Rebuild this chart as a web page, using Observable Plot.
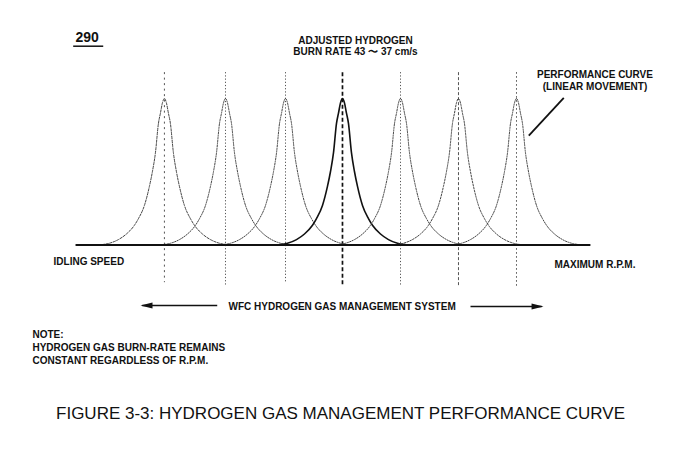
<!DOCTYPE html>
<html>
<head>
<meta charset="utf-8">
<script src="https://cdn.jsdelivr.net/npm/d3@7"></script>
<script src="https://cdn.jsdelivr.net/npm/@observablehq/plot@0.6"></script>
<style>
  html, body { margin: 0; padding: 0; background: #fff; }
</style>
</head>
<body>
<div id="chart"></div>
<script>
// ---- Data ----
// Engine-speed position of each performance peak (peak spacing ~ 1 unit)
const peakCenters = [0.999, 2.040, 3.063, 4.034, 5.023, 6.011, 7.0];
// Shape of one peak: offset from its centre and relative height (one side, mirrored)
const profileOffset = [0, 0.034, 0.068, 0.102, 0.153, 0.205, 0.256, 0.341, 0.443, 0.511, 0.648, 0.784, 0.937, 1.057, 1.125];
const profileHeight = [1, 0.97, 0.90, 0.83, 0.63, 0.50, 0.40, 0.27, 0.18, 0.135, 0.075, 0.037, 0.012, 0.003, 0];
// Lower ends of the vertical centre lines
const guideBottoms = [-0.254, -0.283, -0.254, -0.283, -0.283, -0.283, -0.29];
const guideTop = 1.18;
// Texts
const figNumber = "290";
const topLabel = ["ADJUSTED HYDROGEN", "BURN RATE 43 〜 37 cm/s"];
const curveLabel = ["PERFORMANCE CURVE", "(LINEAR MOVEMENT)"];
const leftLabel = "IDLING SPEED";
const rightLabel = "MAXIMUM R.P.M.";
const systemLabel = "WFC HYDROGEN GAS MANAGEMENT SYSTEM";
const noteLines = ["NOTE:", "HYDROGEN GAS BURN-RATE REMAINS", "CONSTANT REGARDLESS OF R.P.M."];
const caption = "FIGURE 3-3: HYDROGEN GAS MANAGEMENT PERFORMANCE CURVE";
const baselineRange = [-0.516, 8.26];

// ---- Build peak point tables ----
function peakPoints(c) {
  const pts = [];
  for (let i = profileOffset.length - 1; i >= 0; i--) pts.push({x: c - profileOffset[i], y: profileHeight[i]});
  for (let i = 1; i < profileOffset.length; i++) pts.push({x: c + profileOffset[i], y: profileHeight[i]});
  return pts;
}

// styles per peak (index matches peakCenters)
const curveDash = ["2.4,1.4", "1.3,1.3", "1.3,1.3", null, "1.3,1.3", "1.6,1.4", "1.3,1.3"];
const guideDash = ["2,3.5", "1.2,2", "1.2,2", "4,2.5", "1.2,2", "3,2", "1.6,2.4"];

const ink = "#111";
const font = "'Liberation Sans', Arial, Helvetica, sans-serif";

const marks = [];

// vertical guides
peakCenters.forEach((c, i) => {
  marks.push(Plot.link([c], {
    x1: d => d, x2: d => d, y1: guideTop, y2: guideBottoms[i],
    stroke: i === 3 ? "#111" : "#555",
    strokeWidth: i === 3 ? 1.7 : 1,
    strokeDasharray: guideDash[i]
  }));
});

// peaks
peakCenters.forEach((c, i) => {
  marks.push(Plot.line(peakPoints(c), {
    x: "x", y: "y", curve: "monotone-x",
    stroke: i === 3 ? "#111" : "#444",
    strokeWidth: i === 3 ? 1.6 : 1,
    strokeDasharray: curveDash[i]
  }));
});

// baseline
marks.push(Plot.link([0], {x1: baselineRange[0], x2: baselineRange[1], y1: 0, y2: 0, stroke: ink, strokeWidth: 2}));

// pointer to performance curve
marks.push(Plot.link([0], {x1: 7.806, y1: 1.005, x2: 7.210, y2: 0.747, stroke: ink, strokeWidth: 1.8}));

// system arrows
marks.push(Plot.link([0], {x1: 1.899, x2: 0.62, y1: -0.413, y2: -0.413, stroke: ink, strokeWidth: 1.5}));
marks.push(Plot.link([0], {x1: 6.216, x2: 7.43, y1: -0.420, y2: -0.420, stroke: ink, strokeWidth: 1.5}));
marks.push(Plot.vector([0], {x: 0.591, y: -0.413, length: 12, rotate: -90, r: 3, shape: "spike", anchor: "end", fill: ink, stroke: "none"}));
marks.push(Plot.vector([0], {x: 7.461, y: -0.420, length: 12, rotate: 90, r: 3, shape: "spike", anchor: "end", fill: ink, stroke: "none"}));

// figure number + underline
marks.push(Plot.text([figNumber], {x: -0.517, y: 1.384, text: d => d, textAnchor: "start", lineAnchor: "bottom", fontSize: 14, fontWeight: "bold", fill: ink}));
marks.push(Plot.link([0], {x1: -0.556, x2: -0.044, y1: 1.357, y2: 1.357, stroke: ink, strokeWidth: 1.5}));

// top label
marks.push(Plot.text(topLabel, {x: 4.256, y: (d, i) => [1.373, 1.294][i], text: d => d, textAnchor: "middle", lineAnchor: "bottom", fontSize: 10, fontWeight: "bold", fill: ink}));
// performance curve label
marks.push(Plot.text(curveLabel, {x: 8.338, y: (d, i) => [1.137, 1.055][i], text: d => d, textAnchor: "middle", lineAnchor: "bottom", fontSize: 10, fontWeight: "bold", fill: ink}));
// side labels
marks.push(Plot.text([leftLabel], {x: -0.891, y: -0.137, text: d => d, textAnchor: "start", lineAnchor: "bottom", fontSize: 10, fontWeight: "bold", fill: ink}));
marks.push(Plot.text([rightLabel], {x: 7.648, y: -0.160, text: d => d, textAnchor: "start", lineAnchor: "bottom", fontSize: 10, fontWeight: "bold", fill: ink}));
marks.push(Plot.text([systemLabel], {x: 2.091, y: -0.447, text: d => d, textAnchor: "start", lineAnchor: "bottom", fontSize: 10, fontWeight: "bold", fill: ink}));
// note
marks.push(Plot.text(noteLines, {x: -1.25, y: (d, i) => [-0.638, -0.727, -0.809][i], text: d => d, textAnchor: "start", lineAnchor: "bottom", fontSize: 10, fontWeight: "bold", fill: ink}));
// caption
marks.push(Plot.text([caption], {x: 4.0, y: -1.186, text: d => d, textAnchor: "middle", lineAnchor: "bottom", fontSize: 17, fill: ink}));

const chart = Plot.plot({
  width: 692,
  height: 455,
  margin: 0,
  x: {domain: [-1.795, 10.0], axis: null},
  y: {domain: [-1.437, 1.669], axis: null},
  style: {fontFamily: font, background: "#fff", color: ink},
  marks
});
document.getElementById("chart").appendChild(chart);
</script>
</body>
</html>
